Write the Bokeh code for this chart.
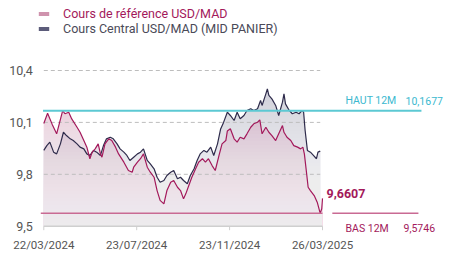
import numpy as np
import pandas as pd
from bokeh.plotting import figure
from bokeh.models import (Range1d, Label, Legend, LegendItem, ColumnDataSource)
from bokeh.embed import file_html
from bokeh.resources import INLINE

# ---------------- data ----------------
ref_dates = [
    "2024-03-22", "2024-03-27", "2024-04-02", "2024-04-08", "2024-04-16",
    "2024-04-19", "2024-04-24", "2024-04-28", "2024-05-05", "2024-05-09",
    "2024-05-14", "2024-05-18", "2024-05-22", "2024-05-25", "2024-05-29",
    "2024-06-02", "2024-06-05", "2024-06-07", "2024-06-11", "2024-06-16",
    "2024-06-20", "2024-06-25", "2024-06-29", "2024-07-06", "2024-07-12",
    "2024-07-17", "2024-07-19", "2024-07-24", "2024-07-28", "2024-08-01",
    "2024-08-06", "2024-08-10", "2024-08-15", "2024-08-19", "2024-08-23",
    "2024-08-28", "2024-09-01", "2024-09-06", "2024-09-10", "2024-09-15",
    "2024-09-19", "2024-09-23", "2024-09-26", "2024-09-30", "2024-10-04",
    "2024-10-09", "2024-10-13", "2024-10-18", "2024-10-22", "2024-10-26",
    "2024-10-31", "2024-11-04", "2024-11-09", "2024-11-13", "2024-11-18",
    "2024-11-20", "2024-11-24", "2024-11-29", "2024-12-03", "2024-12-07",
    "2024-12-12", "2024-12-16", "2024-12-21", "2024-12-25", "2024-12-30",
    "2025-01-02", "2025-01-05", "2025-01-10", "2025-01-14", "2025-01-18",
    "2025-01-23", "2025-01-27", "2025-02-01", "2025-02-03", "2025-02-07",
    "2025-02-12", "2025-02-16", "2025-02-21", "2025-02-25", "2025-02-28",
    "2025-03-02", "2025-03-05", "2025-03-07", "2025-03-10", "2025-03-15",
    "2025-03-19", "2025-03-23", "2025-03-25", "2025-03-26",
]
ref_values = [
    10.094, 10.153, 10.090, 10.034, 10.1677,
    10.150, 10.159, 10.120, 10.072, 10.043,
    9.995, 9.957, 9.890, 9.928, 9.947,
    9.976, 9.918, 9.899, 9.976, 10.005,
    9.995, 9.957, 9.918, 9.870, 9.822,
    9.812, 9.841, 9.870, 9.890, 9.918,
    9.841, 9.812, 9.783, 9.706, 9.649,
    9.629, 9.706, 9.754, 9.764, 9.725,
    9.706, 9.658, 9.687, 9.735, 9.783,
    9.832, 9.870, 9.890, 9.870, 9.890,
    9.849, 9.822, 9.909, 9.976, 9.995,
    10.050, 10.063, 10.005, 9.986, 10.014,
    10.005, 10.034, 10.072, 10.092, 10.101,
    10.115, 10.034, 10.072, 10.043, 10.024,
    9.995, 10.034, 10.082, 10.043, 10.014,
    9.995, 9.966, 9.957, 9.947, 9.957,
    9.918, 9.803, 9.725, 9.706, 9.677,
    9.639, 9.5746, 9.601, 9.6607,
]

mid_dates = [
    "2024-03-22", "2024-03-26", "2024-03-30", "2024-04-04", "2024-04-08",
    "2024-04-13", "2024-04-17", "2024-04-21", "2024-04-26", "2024-04-30",
    "2024-05-05", "2024-05-09", "2024-05-14", "2024-05-18", "2024-05-22",
    "2024-05-27", "2024-05-31", "2024-06-05", "2024-06-09", "2024-06-13",
    "2024-06-18", "2024-06-22", "2024-06-27", "2024-07-01", "2024-07-06",
    "2024-07-10", "2024-07-14", "2024-07-19", "2024-07-24", "2024-07-28",
    "2024-08-01", "2024-08-06", "2024-08-10", "2024-08-15", "2024-08-19",
    "2024-08-23", "2024-08-28", "2024-09-01", "2024-09-06", "2024-09-10",
    "2024-09-15", "2024-09-19", "2024-09-23", "2024-09-28", "2024-10-02",
    "2024-10-07", "2024-10-11", "2024-10-15", "2024-10-20", "2024-10-24",
    "2024-10-29", "2024-11-02", "2024-11-07", "2024-11-11", "2024-11-15",
    "2024-11-20", "2024-11-24", "2024-11-29", "2024-12-03", "2024-12-07",
    "2024-12-12", "2024-12-16", "2024-12-21", "2024-12-25", "2024-12-30",
    "2025-01-03", "2025-01-05", "2025-01-10", "2025-01-12", "2025-01-14",
    "2025-01-18", "2025-01-23", "2025-01-27", "2025-02-01", "2025-02-03",
    "2025-02-05", "2025-02-10", "2025-02-14", "2025-02-19", "2025-02-23",
    "2025-02-27", "2025-03-01", "2025-03-03", "2025-03-06", "2025-03-10",
    "2025-03-14", "2025-03-18", "2025-03-20", "2025-03-23",
]
mid_values = [
    9.938, 9.966, 9.986, 9.928, 9.918,
    9.976, 10.043, 10.024, 10.005, 9.995,
    9.976, 9.957, 9.947, 9.918, 9.909,
    9.938, 9.928, 9.909, 9.966, 10.005,
    10.014, 10.005, 9.976, 9.947, 9.928,
    9.909, 9.880, 9.899, 9.918, 9.928,
    9.947, 9.880, 9.860, 9.832, 9.783,
    9.754, 9.764, 9.793, 9.812, 9.822,
    9.774, 9.783, 9.764, 9.745, 9.793,
    9.832, 9.880, 9.918, 9.938, 9.928,
    9.957, 9.909, 9.976, 10.060, 10.100,
    10.159, 10.140, 10.111, 10.159, 10.121,
    10.140, 10.169, 10.179, 10.169, 10.179,
    10.227, 10.198, 10.265, 10.294, 10.256,
    10.236, 10.198, 10.140, 10.217, 10.265,
    10.207, 10.169, 10.150, 10.159, 10.150,
    10.169, 10.159, 10.053, 9.938, 9.928,
    9.909, 9.890, 9.928, 9.934,
]

haut_12m = 10.1677
bas_12m = 9.5746
haut_label = ["HAUT 12M", "10,1677"]
bas_label = ["BAS 12M", "9,5746"]
last_label = "9,6607"
series_names = ["Cours de référence USD/MAD", "Cours Central USD/MAD (MID PANIER)"]
x_tick_dates = ["2024-03-22", "2024-07-23", "2024-11-23", "2025-03-26"]
x_tick_labels = ["22/03/2024", "23/07/2024", "23/11/2024", "26/03/2025"]
y_ticks = [9.5, 9.8, 10.1, 10.4]
y_tick_labels = ["9,5", "9,8", "10,1", "10,4"]
grid_levels = [9.8, 10.1, 10.4]

# ---------------- styles / geometry ----------------
FONT = "Roboto"
MAGENTA = "#a3195b"
NAVY = "#2e2b4b"
CYAN = "#5cc9d3"
CYAN_TXT = "#3bb9cf"
BAS_LINE = "#c96a93"
GREY_TXT = "#555555"
AXIS_GREY = "#cfcfcf"

W, H = 462, 263
PX_PER_UNIT = 173.0          # vertical scale
AXIS_Y_PX = 225.7            # where 9.5 sits (from top)
LEFT_PX = 43.3               # where the first date sits
DAYS_PER_PX = 369 / 278.7

ref_x = pd.to_datetime(ref_dates)
mid_x = pd.to_datetime(mid_dates)
start = ref_x[0]
last = ref_x[-1]


def ms(ts):
    return ts.value / 1e6


y_base = 9.5
y_bottom = y_base - (H - AXIS_Y_PX) / PX_PER_UNIT
y_top = y_base + AXIS_Y_PX / PX_PER_UNIT
x_start = start - pd.Timedelta(days=LEFT_PX * DAYS_PER_PX)
x_end = start + pd.Timedelta(days=(W - LEFT_PX) * DAYS_PER_PX)

p = figure(width=W, height=H, x_axis_type="datetime",
           output_backend="svg", toolbar_location=None,
           x_range=Range1d(ms(x_start), ms(x_end)),
           y_range=Range1d(y_bottom, y_top),
           min_border=0)
p.xaxis.visible = False
p.yaxis.visible = False
p.outline_line_color = None
p.grid.visible = False
p.background_fill_color = "white"
p.border_fill_color = "white"

# area fills
p.varea(x=mid_x, y1=y_base, y2=mid_values, fill_color="#3b3a6a", fill_alpha=0.27)
p.varea(x=ref_x, y1=y_base, y2=ref_values, fill_color="#b3236a", fill_alpha=0.30)

# white fade towards the bottom (gradient imitation)
n = 40
tops = np.linspace(9.5, 10.32, n + 1)[1:]
a = 1 - (1 - 0.88) ** (1.0 / n)
fade = ColumnDataSource(dict(left=[ms(start)] * n, right=[ms(last)] * n,
                             bottom=[y_base] * n, top=list(tops)))
p.quad(left="left", right="right", bottom="bottom", top="top", source=fade,
       fill_color="white", fill_alpha=a, line_color=None)

# dashed grid
gsrc = ColumnDataSource(dict(x0=[ms(start)] * len(grid_levels),
                             x1=[ms(mid_x[-1])] * len(grid_levels),
                             y=grid_levels))
p.segment(x0="x0", x1="x1", y0="y", y1="y", source=gsrc,
          line_color="#bdbdbd", line_dash="4 3", line_width=1)

# x axis (drawn by hand so that the frame can cover the whole canvas)
tick_ms = [ms(pd.Timestamp(d)) for d in x_tick_dates]
p.segment(x0=[ms(start)], x1=[ms(last)], y0=[y_base], y1=[y_base],
          line_color=AXIS_GREY, line_width=1.5)
p.segment(x0=tick_ms, x1=tick_ms, y0=[y_base] * len(tick_ms),
          y1=[y_base - 4 / PX_PER_UNIT] * len(tick_ms),
          line_color=AXIS_GREY, line_width=1)
for t, txt in zip(tick_ms, x_tick_labels):
    p.add_layout(Label(x=t, y=y_base, text=txt, x_offset=0, y_offset=-18.5,
                       text_align="center", text_baseline="middle",
                       text_font=FONT, text_font_size="11.5px",
                       text_color=GREY_TXT))
for v, txt in zip(y_ticks, y_tick_labels):
    p.add_layout(Label(x=ms(start), y=v, text=txt, x_offset=-11, y_offset=0,
                       text_align="right", text_baseline="middle",
                       text_font=FONT, text_font_size="12.5px",
                       text_color=GREY_TXT))

# series lines
p.line(mid_x, mid_values, line_color=NAVY, line_width=1.2)
p.line(ref_x, ref_values, line_color=MAGENTA, line_width=1.2)

# high / low lines
p.segment(x0=[ms(start - pd.Timedelta(days=1))], x1=[ms(last + pd.Timedelta(days=131))],
          y0=[haut_12m], y1=[haut_12m], line_color=CYAN, line_width=2)
p.segment(x0=[ms(start - pd.Timedelta(days=4)), ms(last + pd.Timedelta(days=13))],
          x1=[ms(last), ms(last + pd.Timedelta(days=127))],
          y0=[bas_12m, bas_12m], y1=[bas_12m, bas_12m],
          line_color=BAS_LINE, line_width=1.5)


def lab(text, y, xo, yo, color, bold=False, size="10.5px"):
    p.add_layout(Label(x=ms(last), y=y, text=text, x_offset=xo, y_offset=yo,
                       text_color=color, text_font=FONT, text_font_size=size,
                       text_font_style="bold" if bold else "normal",
                       text_baseline="alphabetic"))


lab(haut_label[0], haut_12m, 23, 10, CYAN_TXT)
lab(haut_label[1], haut_12m, 83, 10, CYAN_TXT)
lab(bas_label[0], bas_12m, 23, -15, MAGENTA)
lab(bas_label[1], bas_12m, 81, -15, MAGENTA)
lab(last_label, ref_values[-1], 4, 5, MAGENTA, bold=True, size="12.5px")

# legends (one per item so each label keeps its own colour)
sw = dict(left=[ms(start)], right=[ms(start)], top=[y_base], bottom=[y_base])
r1 = p.quad(source=ColumnDataSource(sw), left="left", right="right", top="top",
            bottom="bottom", fill_color="#cf93ad", line_color=None)
r2 = p.quad(source=ColumnDataSource(sw), left="left", right="right", top="top",
            bottom="bottom", fill_color="#5c5c7a", line_color=None)
for r, name, col, yloc in [(r1, series_names[0], MAGENTA, H - 21),
                           (r2, series_names[1], "#4a4a58", H - 36)]:
    leg = Legend(items=[LegendItem(label=name, renderers=[r])], location=(37, yloc),
                 glyph_width=13, glyph_height=5, label_standoff=13,
                 label_text_font=FONT, label_text_font_size="12.5px",
                 label_text_color=col, label_height=14, padding=0, margin=0,
                 spacing=0, border_line_color=None, background_fill_alpha=0)
    p.add_layout(leg, "center")

open("out.html", "w").write(file_html(p, INLINE))
